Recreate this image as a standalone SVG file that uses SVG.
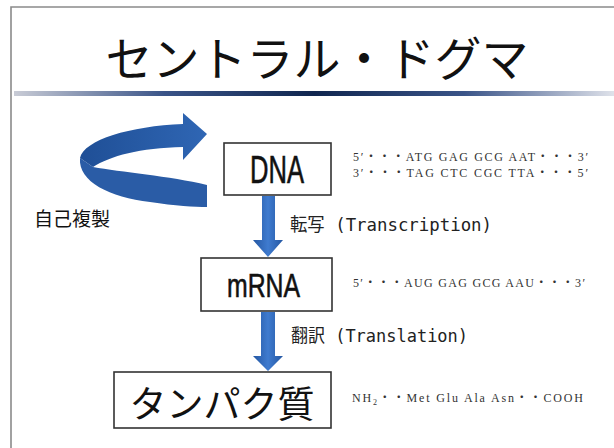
<svg xmlns="http://www.w3.org/2000/svg" width="614" height="448" viewBox="0 0 614 448">
<defs>
<linearGradient id="bar" x1="0" y1="0" x2="1" y2="0">
<stop offset="0" stop-color="#c9ccd6"/>
<stop offset="0.25" stop-color="#3a5488"/>
<stop offset="0.5" stop-color="#10264f"/>
<stop offset="0.75" stop-color="#3a5488"/>
<stop offset="1" stop-color="#dfe2ea"/>
</linearGradient>
<linearGradient id="arr" x1="0" y1="0" x2="1" y2="0">
<stop offset="0" stop-color="#2457a2"/>
<stop offset="0.5" stop-color="#3f7bcf"/>
<stop offset="1" stop-color="#2457a2"/>
</linearGradient>
<linearGradient id="rib" x1="0" y1="0" x2="1" y2="0">
<stop offset="0" stop-color="#1f4f96"/>
<stop offset="1" stop-color="#2f66b4"/>
</linearGradient>
</defs>
<style>
.box{fill:#fff;stroke:#333;stroke-width:1.6}
.big{font-family:"Liberation Sans","Noto Sans CJK JP",sans-serif;fill:#111;stroke:#111;stroke-width:0.6}
.jp{font-family:"Noto Sans CJK JP",sans-serif;fill:#111}
.lbl{font-family:"DejaVu Sans Mono","Noto Sans CJK JP",monospace;font-size:18px;fill:#222}
.seq{font-family:"Liberation Serif","Noto Sans CJK JP",serif;font-size:12px;fill:#333}
.arrow{fill:url(#arr)}
</style>
<rect width="614" height="448" fill="#fff"/>
<path d="M11,448 L11,7 L614,7" fill="none" stroke="#8a8a8a" stroke-width="1.6"/>
<text class="jp" x="317" y="76" font-size="47" text-anchor="middle">セントラル・ドグマ</text>
<rect x="14" y="91" width="600" height="5" fill="url(#bar)"/>

<g id="self-replication">
<path d="M207,185 C170,176 120,172 93,167 L80,158 C78,182 110,197 150,202 C175,206 195,207 207,207 Z" fill="#2a5ca6"/>
<path d="M80,158 C84,140 130,126 183,124 L183,113 L207,134 L183,160 L183,147 C140,148 110,156 93,167 Z" fill="url(#rib)"/>
<text class="jp" x="34" y="226" font-size="19">自己複製</text>
</g>

<g id="connectors">
<path class="arrow" d="M262,196 L275,196 L275,240 L283,240 L268,257 L253,240 L262,240 Z"/>
<path class="arrow" d="M261,312 L275,312 L275,356 L283,356 L268,371 L253,356 L261,356 Z"/>
<text class="lbl" x="290" y="231" textLength="202" lengthAdjust="spacingAndGlyphs">転写 (Transcription)</text>
<text class="lbl" x="291" y="342" textLength="177" lengthAdjust="spacingAndGlyphs">翻訳 (Translation)</text>
</g>

<g id="dna">
<rect class="box" x="224" y="143" width="107" height="52"/>
<text class="big" x="250" y="183" font-size="38" textLength="54" lengthAdjust="spacingAndGlyphs">DNA</text>
<text class="seq" x="353" y="161" textLength="235" lengthAdjust="spacing">5′・・・ATG GAG GCG AAT・・・3′</text>
<text class="seq" x="353" y="177" textLength="235" lengthAdjust="spacing">3′・・・TAG CTC CGC TTA・・・5′</text>
</g>

<g id="mrna">
<rect class="box" x="201" y="258" width="131" height="53"/>
<text class="big" x="227" y="297" font-size="34" textLength="73" lengthAdjust="spacingAndGlyphs">mRNA</text>
<text class="seq" x="353" y="287" textLength="232" lengthAdjust="spacing">5′・・・AUG GAG GCG AAU・・・3′</text>
</g>

<g id="protein">
<rect class="box" x="114" y="372" width="217" height="56"/>
<text class="jp" x="222" y="418" font-size="37" text-anchor="middle">タンパク質</text>
<text class="seq" x="352" y="402" textLength="231" lengthAdjust="spacing">NH<tspan font-size="8" dy="3">2</tspan><tspan dy="-3">・・Met Glu Ala Asn・・COOH</tspan></text>
</g>
</svg>
